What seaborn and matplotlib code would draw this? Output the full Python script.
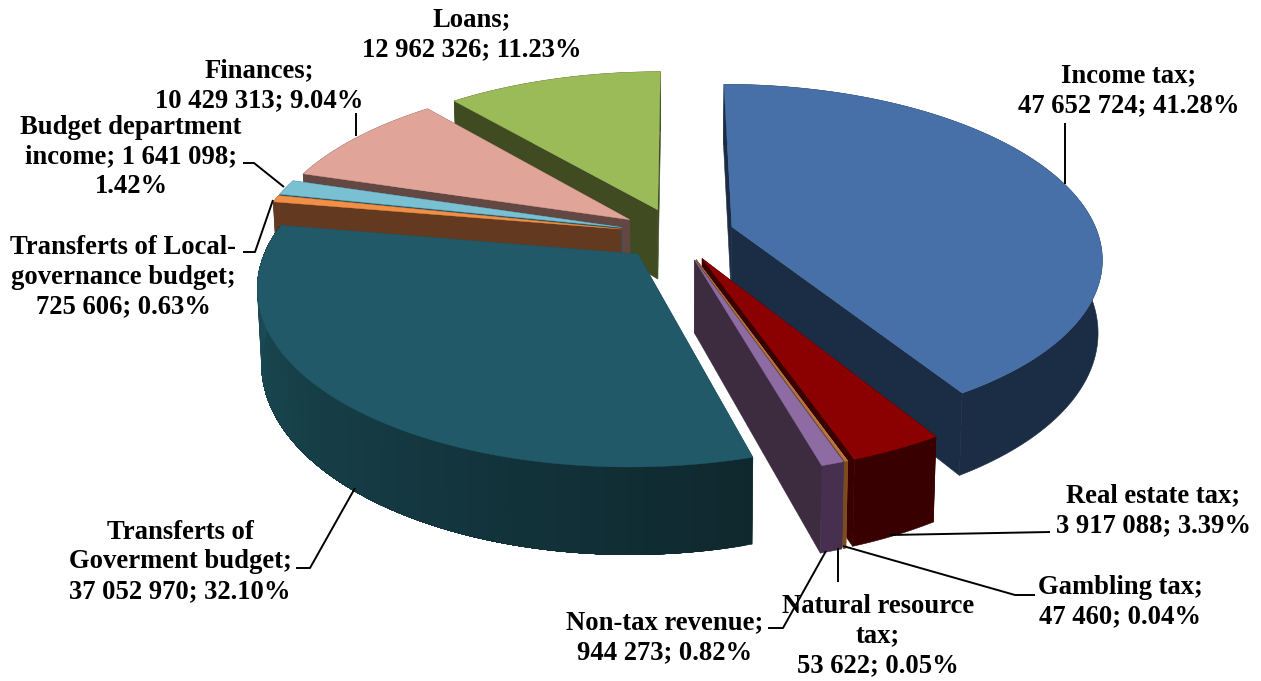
import numpy as np
import matplotlib
matplotlib.use("Agg")
import matplotlib.pyplot as plt
from matplotlib.patches import Polygon
import seaborn as sns

categories = ["Income tax", "Real estate tax", "Gambling tax", "Natural resource tax",
              "Non-tax revenue", "Transferts of Goverment budget",
              "Transferts of Local-governance budget", "Budget department income",
              "Finances", "Loans"]
values = [47652724, 3917088, 47460, 53622, 944273, 37052970, 725606, 1641098, 10429313, 12962326]
labels = ["Income tax;\n47 652 724; 41.28%", "Real estate tax;\n3 917 088; 3.39%",
          "Gambling tax;\n47 460; 0.04%", "Natural resource\ntax;\n53 622; 0.05%",
          "Non-tax revenue;\n944 273; 0.82%", "Transferts of\nGoverment budget;\n37 052 970; 32.10%",
          "Transferts of Local-\ngovernance budget;\n725 606; 0.63%",
          "Budget department\nincome; 1 641 098;\n1.42%", "Finances;\n10 429 313; 9.04%",
          "Loans;\n12 962 326; 11.23%"]
top_colors = ["#4670A7", "#8B0000", "#E08A45", "#B9804A", "#8F6BA3", "#215968", "#F08F45", "#78C0D2", "#E0A498", "#9BBB59"]
wall_colors = ["#1B2D45", "#380000", "#8A5020", "#7A4A20", "#472F50", "#1C4F5B", "#63391F", "#2B5866", "#634743", "#404B22"]
wall_far = {5: "#0F282E"}
side_colors = {4: "#3D2B40"}

sns.set_theme(style="white")
plt.rcParams["font.family"] = ["Liberation Serif", "DejaVu Serif"]
top_pal = sns.color_palette(top_colors)
wall_pal = sns.color_palette(wall_colors)

CX, CY, RX, RY, P, EXPLODE, DEPTH, BOTTOM = 677, 234, 366, 169, 0.17, 0.157, 71, 0.99


def project(u, v, bottom=False):
    s = 1 / (1 - P * v)
    x = RX * u * s
    y = RY * v * s
    if bottom:
        return CX + BOTTOM * x, CY + y + DEPTH * s
    return CX + x, CY + y


fig = plt.figure(figsize=(12.61, 6.81), dpi=100)
ax = fig.add_axes([0, 0, 1, 1])
ax.set_xlim(0, 1261)
ax.set_ylim(681, 0)
ax.axis("off")

fractions = np.array(values) / np.sum(values)
ends = np.cumsum(fractions) * 2 * np.pi
starts = ends - fractions * 2 * np.pi


def band(points, color, z):
    xy = [project(a, b) for a, b in points] + [project(a, b, True) for a, b in reversed(points)]
    ax.add_patch(Polygon(xy, closed=True, fc=color, ec=color, lw=0.4, zorder=z))


order = [9, 8, 7, 6, 0, 1, 2, 3, 4, 5]
for rank, i in enumerate(order):
    z = 2 + rank
    mid = (starts[i] + ends[i]) / 2
    ou, ov = EXPLODE * np.sin(mid), -EXPLODE * np.cos(mid)
    n = max(3, int(np.degrees(ends[i] - starts[i])))
    ts = np.linspace(starts[i], ends[i], n)
    us, vs = ou + np.sin(ts), ov - np.cos(ts)
    rim = list(zip(us, vs))
    apex = (ou, ov)
    band([apex, rim[0]], wall_pal[i], z)
    band([apex, rim[-1]], side_colors.get(i, wall_pal[i]), z)
    if i in wall_far:
        near = np.array(matplotlib.colors.to_rgb(wall_far[i]))
        far = np.array(wall_pal[i])
        for k in range(n - 1):
            f = k / max(1, n - 2)
            band(rim[k:], tuple(near + (far - near) * f), z)
    else:
        band(rim, wall_pal[i], z)
    face = [project(*apex)] + [project(a, b) for a, b in rim]
    ax.add_patch(Polygon(face, closed=True, fc=top_pal[i], ec=top_pal[i], lw=0.3, zorder=z + 0.5))

label_pos = [(1129, 91), (1153, 511), (1120, 602), (878, 636), (665, 638), (180, 562), (123, 277), (131, 157), (259, 86), (472, 35)]
for text, (x, y) in zip(labels, label_pos):
    ax.text(x, y, text, ha="center", va="center", fontsize=19.2, fontweight="bold",
            color="black", linespacing=1.26, zorder=30)

leaders = [[(1065, 184), (1065, 123)], [(890, 535), (1050, 532)], [(843, 546), (1015, 595), (1035, 595)],
           [(838, 548), (838, 582)], [(826, 551), (783, 628), (768, 628)], [(355, 488), (310, 568), (296, 568)],
           [(273, 200), (255, 252), (243, 252)], [(284, 187), (254, 163), (243, 163)], [(356, 136), (356, 113)]]
for path in leaders:
    px, py = zip(*path)
    ax.plot(px, py, color="black", lw=1.4, zorder=25, solid_capstyle="butt")

fig.savefig("out.png", dpi=100, facecolor="white")
